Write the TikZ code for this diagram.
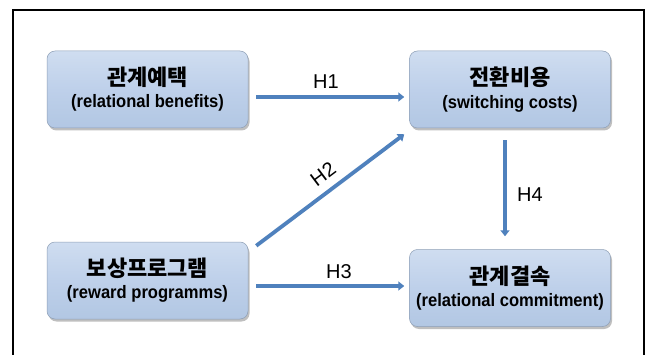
\documentclass[tikz,border=0pt]{standalone}
\usepackage{fontspec}
\setmainfont{Liberation Sans}
\newfontfamily\kr{Noto Sans CJK KR}[UprightFont=* Black]
\newfontfamily\en{Liberation Sans Bold}[FakeStretch=0.92]
\newfontfamily\hf{Liberation Sans}
\usetikzlibrary{arrows.meta,shadows}
\definecolor{boxfill}{HTML}{BED0EA}
\definecolor{boxtop}{HTML}{CFDDF0}
\definecolor{boxbot}{HTML}{B2C7E3}
\definecolor{arrowblue}{HTML}{4F81BD}
\newcommand{\boxtext}[2]{{\kr\fontsize{22}{24}\selectfont #1}\\[6pt]{\en\fontsize{18}{20}\selectfont #2}}
\begin{document}
\begin{tikzpicture}[x=1pt,y=1pt,
  box/.style={rounded corners=8pt, minimum width=201pt, minimum height=77pt,
    draw=boxbot!80!black, line width=0.5pt, align=center, inner sep=0pt,
    top color=boxtop, bottom color=boxbot, middle color=boxfill,
    drop shadow={shadow xshift=1.5pt, shadow yshift=-2.5pt, fill=black!55, opacity=0.45}},
  arr/.style={draw=arrowblue, line width=3.8pt, -{Triangle[width=9pt,length=6pt]}},
  hl/.style={font=\hf\fontsize{20}{22}\selectfont, inner sep=0pt}]
\useasboundingbox (0,0) rectangle (648,354);
\fill[white] (0,0) rectangle (648,354);
\draw[line width=2pt] (13,-10) -- (13,344) -- (644,344) -- (644,-10);

\node[box] (b1) at (147.5,264.5) {\boxtext{관계예택}{(relational benefits)}};
\node[box] (b2) at (510,264.5) {\boxtext{전환비용}{(switching costs)}};
\node[box] (b3) at (147.5,73.5) {\boxtext{보상프로그램}{(reward programms)}};
\node[box] (b4) at (510,66) {\boxtext{관계결속}{(relational commitment)}};

\coordinate (s1) at ([xshift=8pt,yshift=-7.5pt]b1.east);
\coordinate (s3) at ([xshift=8pt,yshift=-5.5pt]b3.east);
\coordinate (s4) at ([xshift=-5pt,yshift=-12pt]b2.south);

\draw[arr] (s1) -- ([xshift=-5pt]s1 -| b2.west);
\draw[arr] ([xshift=8pt,yshift=-4pt]b3.north east) -- ([xshift=-5pt,yshift=-6pt]b2.south west);
\draw[arr] (s3) -- ([xshift=-5pt]s3 -| b4.west);
\draw[arr] (s4) -- ([yshift=13pt]s4 |- b4.north);

\node[hl] (h1) at (326,272.5) {H1};
\node[hl, rotate=37] (h2) at (323,180) {H2};
\node[hl] (h3) at (339,82) {H3};
\node[hl] (h4) at (530,159) {H4};
\end{tikzpicture}
\end{document}
